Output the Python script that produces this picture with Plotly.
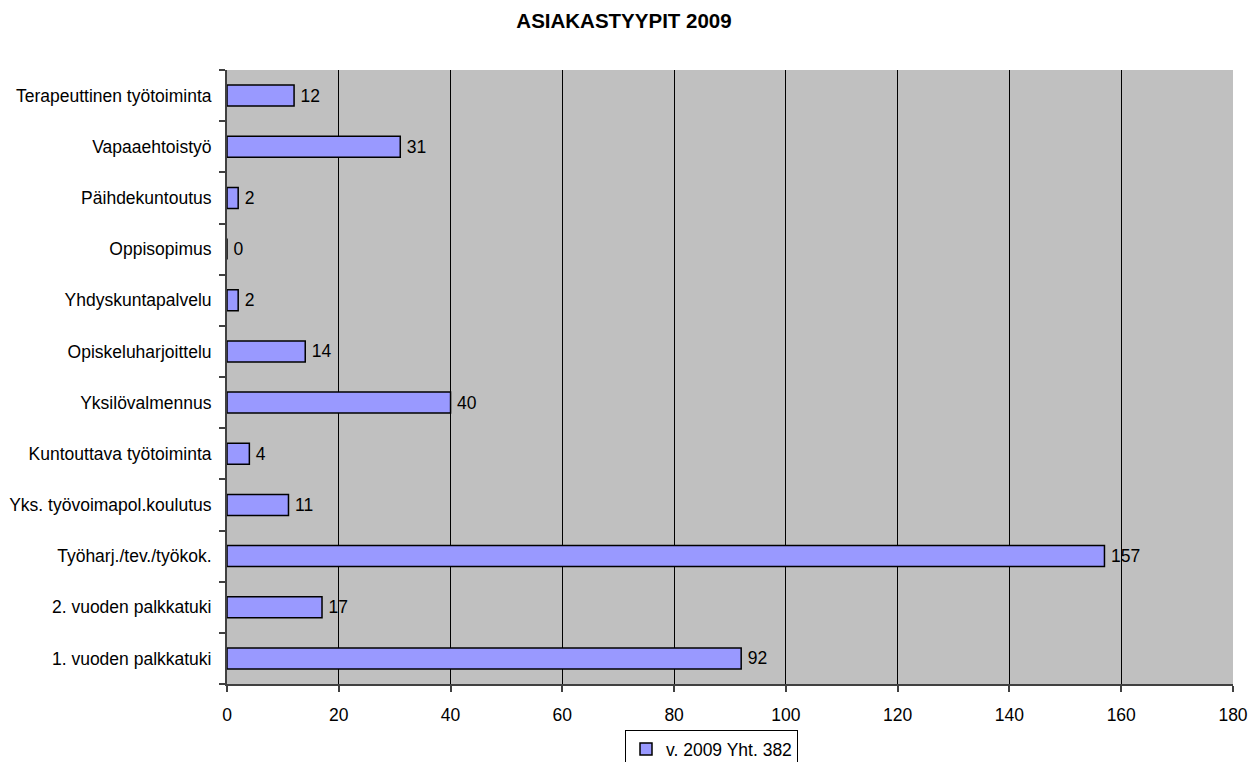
import plotly.graph_objects as go

categories = [
    "1. vuoden palkkatuki",
    "2. vuoden palkkatuki",
    "Työharj./tev./työkok.",
    "Yks. työvoimapol.koulutus",
    "Kuntouttava työtoiminta",
    "Yksilövalmennus",
    "Opiskeluharjoittelu",
    "Yhdyskuntapalvelu",
    "Oppisopimus",
    "Päihdekuntoutus",
    "Vapaaehtoistyö",
    "Terapeuttinen työtoiminta",
]
values = [92, 17, 157, 11, 4, 40, 14, 2, 0, 2, 31, 12]
series_name = "v. 2009 Yht. 382"
x_ticks = [0, 20, 40, 60, 80, 100, 120, 140, 160, 180]

FONT = "Liberation Sans, Arial, sans-serif"
FS = 17.5

W, H = 1248, 762
ML, MR, MT, MB = 227, 15, 70, 78
PLOT_W = W - ML - MR
PLOT_H = H - MT - MB

fig = go.Figure()
fig.add_trace(go.Bar(
    y=categories,
    x=values,
    orientation="h",
    name=series_name,
    marker=dict(color="#9999ff", line=dict(color="black", width=1.5)),
    texttemplate="\u2009%{x}",
    textposition="outside",
    textfont=dict(family=FONT, size=FS, color="black"),
    cliponaxis=False,
    showlegend=True,
))

fig.update_layout(
    width=W,
    height=H,
    margin=dict(l=ML, r=MR, t=MT, b=MB, autoexpand=False),
    paper_bgcolor="white",
    plot_bgcolor="#c0c0c0",
    bargap=0.59,
    title=dict(
        text="<b>ASIAKASTYYPIT 2009</b>",
        x=0.5, xanchor="center",
        y=1 - 21 / H, yanchor="middle",
        font=dict(family=FONT, size=20.5, color="black"),
    ),
    font=dict(family=FONT, size=FS, color="black"),
    xaxis=dict(
        range=[0, 180],
        tickvals=x_ticks,
        ticktext=[str(t) for t in x_ticks],
        showgrid=True,
        gridcolor="black",
        gridwidth=1,
        showline=True,
        linecolor="#404040",
        linewidth=2,
        ticks="outside",
        ticklen=6,
        tickcolor="#404040",
        tickwidth=1.5,
        zeroline=False,
        automargin=False,
        ticklabelstandoff=8,
        tickfont=dict(family=FONT, size=FS, color="black"),
    ),
    yaxis=dict(
        categoryorder="array",
        categoryarray=categories,
        showline=True,
        linecolor="#404040",
        linewidth=2,
        ticks="outside",
        tickson="boundaries",
        ticklen=6,
        tickcolor="#404040",
        tickwidth=1.5,
        showgrid=False,
        automargin=False,
        tickfont=dict(family=FONT, size=FS, color="black"),
        ticklabelstandoff=10,
    ),
    legend=dict(
        orientation="h",
        x=(625 - ML) / PLOT_W, xanchor="left",
        y=-(730 - (H - MB)) / PLOT_H, yanchor="top",
        bordercolor="black",
        borderwidth=1,
        bgcolor="white",
        font=dict(family=FONT, size=FS, color="black"),
        itemwidth=30,
    ),
)

fig.write_html(
    "out.html",
    config={"displayModeBar": False},
    post_script="document.body.style.margin='0';document.body.style.overflow='hidden';",
)
